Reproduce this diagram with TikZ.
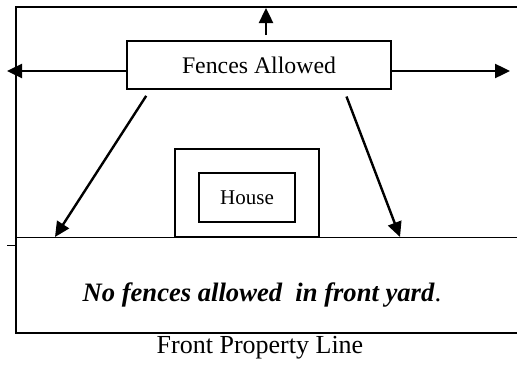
\documentclass[tikz,border=0pt]{standalone}
\usepackage{fontspec}
\setmainfont{Liberation Serif}
\usetikzlibrary{
  positioning,
  arrows.meta
}
\tikzset{
  >={Triangle[length=7.5pt,width=7pt]},
  lot/.style = {
    line width=0.75pt
  },
  box/.style = {
    draw, line width=1pt, inner sep=0pt
  },
  arr/.style = {
    ->, line width=1.2pt
  }
}

\begin{document}
\begin{tikzpicture}[x=0.5pt, y=-0.5pt]
  \useasboundingbox (0,0) rectangle (517,364);
  % lot lines
  \draw [lot] (517,7) -- (16,7) -- (16,333) -- (517,333);
  \draw [lot] (16,237.5) -- (517,237.5);
  \draw [lot] (7,245.5) -- (16,245.5);
  \path
    (7,71) coordinate (lw)
    (510,71) coordinate (rw)
    (266,8) coordinate (up)
    (55,237) coordinate (dl)
    (400,237) coordinate (dr)
    (259,65) node [box, minimum width=132pt, minimum height=24pt,
      font=\fontsize{11.9}{14}\selectfont] (fences) {Fences Allowed}
    (247,193) node [box, minimum width=72pt, minimum height=44pt] (yard) {}
    (247,197.5) node [box, minimum width=48pt, minimum height=24.5pt,
      font=\fontsize{10.5}{12}\selectfont] (house) {House}
    (262,295) node [font=\fontsize{13.3}{16}\selectfont] (nofence)
      {\textbf{\textit{No fences allowed\ \ in front yard}}.}
    (260,348) node [font=\fontsize{13}{16}\selectfont] (front) {Front Property Line};
  \draw [arr] (fences.west |- lw) -- (lw);
  \draw [arr] (fences.east |- rw) -- (rw);
  \draw [arr, shorten <=2.5pt] (fences.north -| up) -- (up);
  \draw [arr, shorten <=3.5pt] ([xshift=12pt]fences.south west) -- (dl);
  \draw [arr, shorten <=3.5pt] ([xshift=-24pt]fences.south east) -- (dr);
\end{tikzpicture}
\end{document}
